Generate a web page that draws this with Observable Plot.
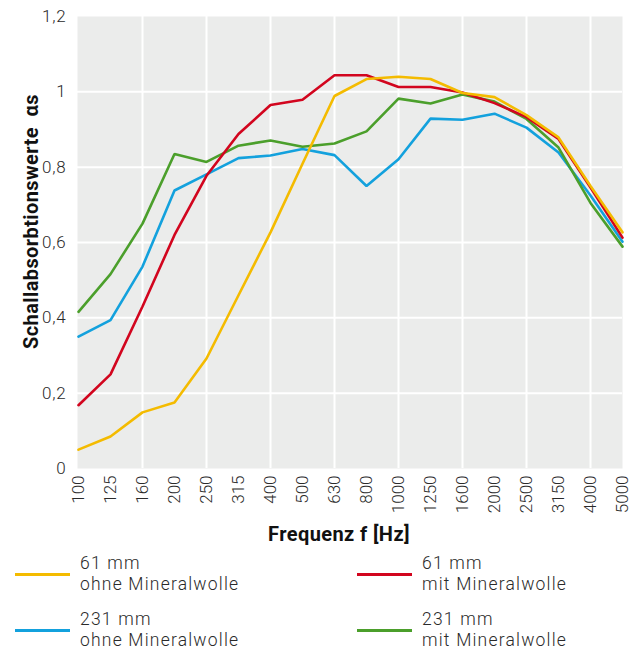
<!DOCTYPE html>
<html>
<head>
<meta charset="utf-8">
<script src="https://cdn.jsdelivr.net/npm/d3@7"></script>
<script src="https://cdn.jsdelivr.net/npm/@observablehq/plot@0.6"></script>
<style>
  html, body { margin: 0; padding: 0; background: #fff; }
  body { width: 637px; height: 653px; overflow: hidden; font-family: Roboto, "DejaVu Sans", sans-serif; }
  #chart svg { display: block; }
  .legend { display: grid; grid-template-columns: 342px 280px; row-gap: 14px; margin: 1px 0 0 15px; }
  .item { display: flex; align-items: center; }
  .swatch { width: 55px; height: 3px; margin-right: 10px; flex: none; }
  .txt { font-size: 17.5px; line-height: 21px; font-weight: 300; letter-spacing: 1.2px; color: #2a2a2a; }
</style>
</head>
<body>
<div id="chart"></div>
<div class="legend" id="legend"></div>
<script>
const freqs = ["100","125","160","200","250","315","400","500","630","800","1000","1250","1600","2000","2500","3150","4000","5000"];
const gridFreqs = ["160","250","400","630","1000","1600","2500","4000"];
const yTicks = [0, 0.2, 0.4, 0.6, 0.8, 1, 1.2];
const yGrid = [0.2, 0.4, 0.6, 0.8, 1];

const ohne61  = [0.050,0.085,0.149,0.175,0.292,0.460,0.627,0.809,0.989,1.034,1.040,1.034,0.997,0.986,0.938,0.879,0.750,0.627];
const mit61   = [0.168,0.250,0.430,0.620,0.777,0.888,0.965,0.979,1.044,1.044,1.013,1.013,0.998,0.970,0.933,0.875,0.746,0.613];
const ohne231 = [0.350,0.394,0.536,0.738,0.781,0.824,0.831,0.848,0.832,0.750,0.821,0.929,0.926,0.942,0.905,0.839,0.725,0.602];
const mit231  = [0.416,0.516,0.650,0.835,0.814,0.857,0.871,0.854,0.863,0.895,0.982,0.969,0.993,0.974,0.928,0.852,0.705,0.589];

const seriesNames = ["61 mm\nohne Mineralwolle", "61 mm\nmit Mineralwolle", "231 mm\nohne Mineralwolle", "231 mm\nmit Mineralwolle"];
const seriesColors = ["#f4bb00", "#d2051e", "#13a1dd", "#4b9f2b"];
const seriesValues = [ohne61, mit61, ohne231, mit231];
const drawOrder = [2, 3, 1, 0];

const data = [];
for (const s of drawOrder) {
  freqs.forEach((f, i) => data.push({series: seriesNames[s], freq: f, value: seriesValues[s][i]}));
}

const fmt = d => String(Math.round(d * 10) / 10).replace(".", ",");

const plot = Plot.plot({
  width: 637,
  height: 552,
  marginLeft: 77,
  marginRight: 15,
  marginTop: 16,
  marginBottom: 84,
  style: {fontFamily: "Roboto, sans-serif", fontSize: "17px", color: "#2a2a2a", background: "#fff"},
  x: {type: "point", domain: freqs, padding: 0},
  y: {domain: [0, 1.2]},
  color: {domain: seriesNames, range: seriesColors},
  marks: [
    Plot.frame({fill: "#ebeceb", stroke: null}),
    Plot.gridX(gridFreqs, {stroke: "#fff", strokeOpacity: 1, strokeWidth: 2}),
    Plot.gridY(yGrid, {stroke: "#fff", strokeOpacity: 1, strokeWidth: 2}),
    Plot.axisY({ticks: yTicks, tickFormat: fmt, tickSize: 0, tickPadding: 11, fontWeight: 300,
      label: "Schallabsorbtionswerte  αs", labelAnchor: "center", labelArrow: "none", labelOffset: 54}),
    Plot.axisX({tickRotate: -90, tickSize: 0, tickPadding: 7, fontWeight: 300,
      label: "Frequenz f [Hz]", labelAnchor: "center", labelArrow: "none", labelOffset: 72}),
    Plot.line(data, {x: "freq", y: "value", z: "series", stroke: "series", strokeWidth: 2.6, strokeLinejoin: "miter"})
  ]
});

document.getElementById("chart").appendChild(plot);

// tick label spacing
plot.querySelectorAll('[aria-label="y-axis tick label"] text').forEach(t => {
  t.style.letterSpacing = "0.8px";
});

// style axis titles
plot.querySelectorAll('[aria-label="y-axis label"] text, [aria-label="x-axis label"] text').forEach(t => {
  t.style.fontWeight = "700";
  t.style.fontSize = "20px";
  t.style.letterSpacing = "0.4px";
  t.style.fill = "#111";
});
const yl = plot.querySelector('[aria-label="y-axis label"] text');
if (yl) yl.setAttribute("dx", "21");
const xl = plot.querySelector('[aria-label="x-axis label"] text');
if (xl) xl.setAttribute("dx", "-11");

// legend
const legendOrder = [0, 1, 2, 3];
const legend = document.getElementById("legend");
for (const i of legendOrder) {
  const item = document.createElement("div");
  item.className = "item";
  const sw = document.createElement("div");
  sw.className = "swatch";
  sw.style.background = seriesColors[i];
  const tx = document.createElement("div");
  tx.className = "txt";
  tx.innerHTML = seriesNames[i].split("\n").join("<br>");
  item.appendChild(sw);
  item.appendChild(tx);
  legend.appendChild(item);
}
</script>
</body>
</html>
